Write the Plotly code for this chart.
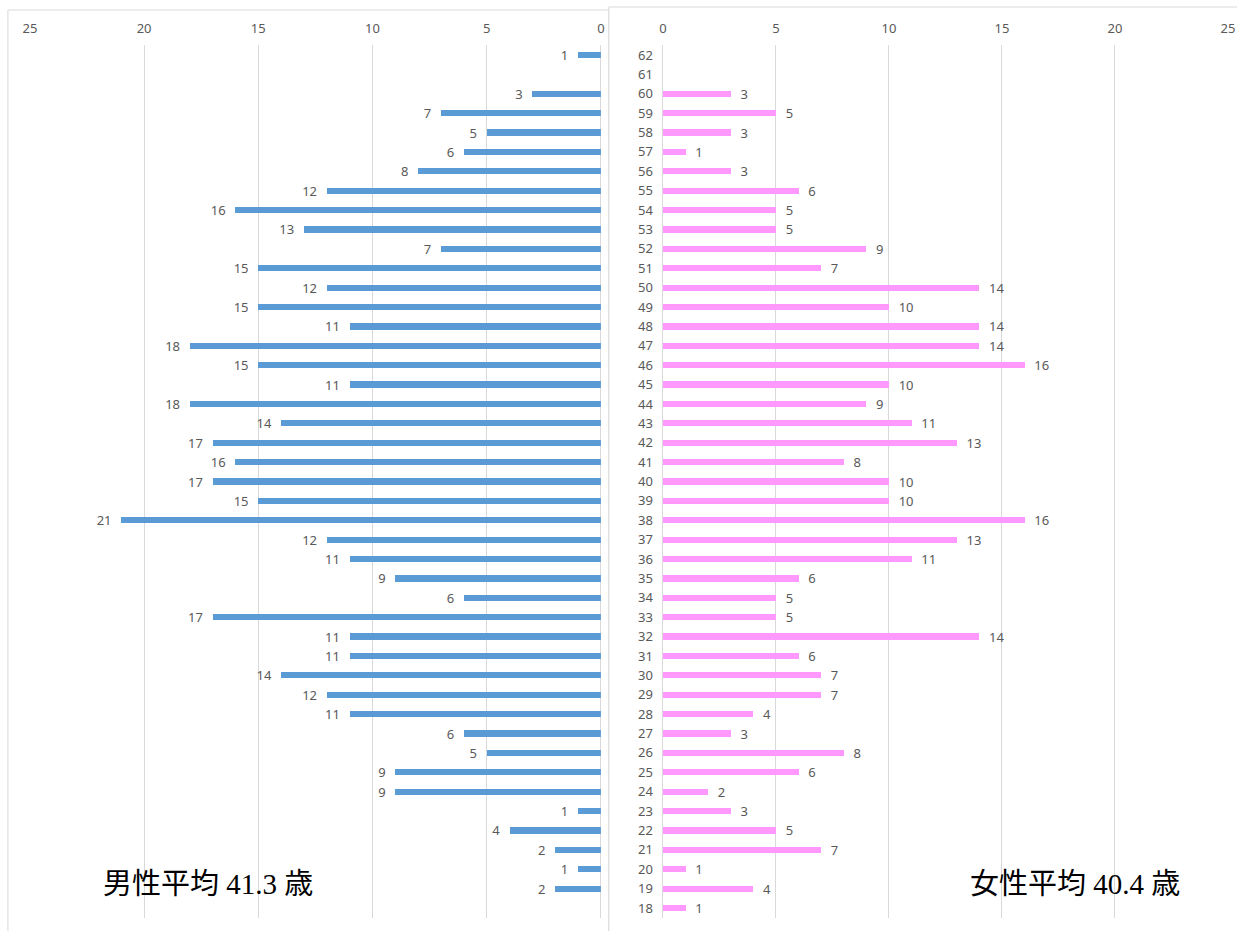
import plotly.graph_objects as go

W, H = 1251, 931

ages = list(range(18, 63))
male = [None, 2, 1, 2, 4, 1, 9, 9, 5, 6, 11, 12, 14, 11, 11, 17, 6, 9, 11, 12,
        21, 15, 17, 16, 17, 14, 18, 11, 15, 18, 11, 15, 12, 15, 7, 13, 16, 12,
        8, 6, 5, 7, 3, None, 1]
female = [1, 4, 1, 7, 5, 3, 2, 6, 8, 3, 4, 7, 7, 6, 14, 5, 5, 6, 11, 13,
          16, 10, 10, 8, 13, 11, 9, 10, 16, 14, 14, 10, 14, 7, 9, 5, 5, 6,
          3, 1, 3, 5, 3, None, None]
x_ticks = [0, 5, 10, 15, 20, 25]
male_label = "男性平均 41.3 歳"
female_label = "女性平均 40.4 歳"

MALE_COLOR = "#5B9BD5"
FEMALE_COLOR = "#FF99FF"
GRID = "#D9D9D9"
TXT = "#595959"
NB = "\u00a0"
FONT = "Noto Sans"
FS = 13


def px(x):
    # horizontal pixel position -> paper fraction (compensates capture scaling)
    return (x - 7.1) / 0.9888 / W


def py(y):
    return (H - y) / H


fig = go.Figure()
fig.add_trace(go.Bar(
    y=ages, x=male, orientation="h", xaxis="x", yaxis="y",
    marker=dict(color=MALE_COLOR, line=dict(width=0)), width=0.32,
    text=[(f"{v}{NB}{NB}" if v else "") for v in male],
    textposition="outside", cliponaxis=False, constraintext="none",
    textfont=dict(color=TXT, size=FS, family=FONT),
    showlegend=False, hoverinfo="x+y"))
fig.add_trace(go.Bar(
    y=ages, x=female, orientation="h", xaxis="x2", yaxis="y2",
    marker=dict(color=FEMALE_COLOR, line=dict(width=0)), width=0.32,
    text=[(f"{NB}{NB}{v}" if v else "") for v in female],
    textposition="outside", cliponaxis=False, constraintext="none",
    textfont=dict(color=TXT, size=FS, family=FONT),
    showlegend=False, hoverinfo="x+y"))

ytop = py(45.3)
ybot = py(917.7)

common_x = dict(side="top", anchor="free", position=ytop, tickvals=x_ticks,
                showgrid=True, gridcolor=GRID, gridwidth=1,
                zeroline=True, zerolinecolor=GRID, zerolinewidth=1,
                showline=False, ticks="", ticklabelstandoff=10,
                ticklabeloverflow="allow",
                tickfont=dict(color=TXT, size=FS, family=FONT),
                fixedrange=True)

fig.update_layout(
    width=W, height=H,
    margin=dict(l=0, r=0, t=0, b=0),
    paper_bgcolor="white", plot_bgcolor="rgba(0,0,0,0)",
    bargap=0,
    uniformtext=dict(mode=False),
    xaxis=dict(domain=[px(30), px(601)], range=[25, 0], **common_x),
    xaxis2=dict(domain=[px(663), min(1.0, px(1228))], range=[0, 25], **common_x),
    yaxis=dict(domain=[ybot, ytop], range=[17.5, 62.5], anchor="x",
               showticklabels=False, showgrid=False, zeroline=False,
               showline=False, ticks="", fixedrange=True),
    yaxis2=dict(domain=[ybot, ytop], range=[17.5, 62.5], anchor="x2",
                tickmode="linear", tick0=18, dtick=1,
                showgrid=False, zeroline=False, showline=False, ticks="",
                ticklabelstandoff=9,
                tickfont=dict(color=TXT, size=FS, family=FONT),
                fixedrange=True),
    shapes=[
        dict(type="rect", xref="paper", yref="paper",
             x0=px(8), x1=px(609), y0=-3 / H, y1=py(10),
             line=dict(color=GRID, width=1), layer="below"),
        dict(type="rect", xref="paper", yref="paper",
             x0=px(609), x1=(W + 20) / W, y0=-3 / H, y1=py(7),
             line=dict(color=GRID, width=1), fillcolor="white", layer="below"),
    ],
    annotations=[
        dict(text=male_label, xref="paper", yref="paper",
             x=px(208), y=py(884), showarrow=False,
             xanchor="center", yanchor="middle",
             font=dict(size=29, color="black",
                       family="Liberation Serif, Noto Sans CJK JP")),
        dict(text=female_label, xref="paper", yref="paper",
             x=px(1075), y=py(884), showarrow=False,
             xanchor="center", yanchor="middle",
             font=dict(size=29, color="black",
                       family="Liberation Serif, Noto Sans CJK JP")),
    ],
)

fig.write_html("out.html",
               config=dict(displayModeBar=False, staticPlot=True),
               post_script="document.body.style.margin='0';"
                           "document.body.style.overflow='hidden';")
